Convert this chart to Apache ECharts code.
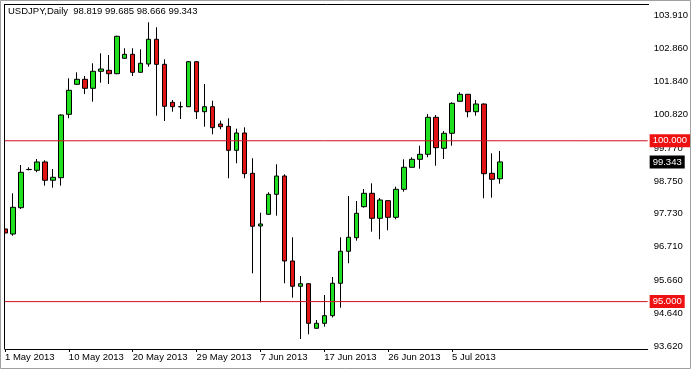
<!DOCTYPE html>
<html>
<head>
<meta charset="utf-8">
<script src="https://cdn.jsdelivr.net/npm/echarts@6/dist/echarts.min.js"></script>
<style>
html,body{margin:0;padding:0;background:#fff;}
#c{width:691px;height:369px;}
</style>
</head>
<body>
<div id="c"></div>
<script>
const symbolName = "USDJPY,Daily";
const dates = [
"1 May 2013","2 May 2013","3 May 2013","5 May 2013","6 May 2013","7 May 2013","8 May 2013","9 May 2013",
"10 May 2013","12 May 2013","13 May 2013","14 May 2013","15 May 2013","16 May 2013","17 May 2013","19 May 2013",
"20 May 2013","21 May 2013","22 May 2013","23 May 2013","24 May 2013","26 May 2013","27 May 2013","28 May 2013",
"29 May 2013","30 May 2013","31 May 2013","2 Jun 2013","3 Jun 2013","4 Jun 2013","5 Jun 2013","6 Jun 2013",
"7 Jun 2013","9 Jun 2013","10 Jun 2013","11 Jun 2013","12 Jun 2013","13 Jun 2013","14 Jun 2013","16 Jun 2013",
"17 Jun 2013","18 Jun 2013","19 Jun 2013","20 Jun 2013","21 Jun 2013","23 Jun 2013","24 Jun 2013","25 Jun 2013",
"26 Jun 2013","27 Jun 2013","28 Jun 2013","30 Jun 2013","1 Jul 2013","2 Jul 2013","3 Jul 2013","4 Jul 2013",
"5 Jul 2013","7 Jul 2013","8 Jul 2013","9 Jul 2013","10 Jul 2013","11 Jul 2013","12 Jul 2013"
];
const openVals = [97.258,97.102,97.920,99.105,99.082,99.341,98.772,98.852,100.823,101.756,101.911,101.631,102.160,102.191,102.085,102.564,
102.688,102.129,102.387,103.155,102.377,101.196,101.062,101.059,102.458,100.904,101.059,100.522,100.450,99.704,100.242,98.989,
97.351,97.715,98.336,98.905,96.263,95.477,95.557,94.171,94.326,94.563,95.570,96.565,96.987,97.951,98.367,97.590,
98.138,97.621,98.492,99.176,99.424,99.580,100.730,99.766,100.233,101.227,101.445,100.904,101.143,98.989,98.819];
const closeVals = [97.133,97.932,99.020,99.110,99.341,98.772,98.865,100.801,101.569,101.911,101.631,102.160,102.231,102.085,103.248,102.688,
102.129,102.409,103.155,102.377,101.072,101.059,101.056,102.458,100.904,101.059,100.407,100.438,99.704,100.242,98.977,97.342,
97.413,98.336,98.905,96.263,95.477,95.557,94.326,94.326,94.563,95.570,96.565,97.000,97.746,98.367,97.590,98.159,
97.621,98.492,99.176,99.424,99.580,100.730,99.785,100.233,101.165,101.445,100.904,101.143,98.977,98.803,99.343];
const lowVals = [96.987,97.049,97.880,99.082,99.020,98.604,98.542,98.604,100.699,101.734,101.454,101.215,101.806,101.765,102.067,102.550,
102.014,102.120,102.303,100.780,100.615,100.904,100.677,101.050,100.677,100.438,100.201,100.357,98.834,99.300,98.834,95.881,
94.979,97.700,97.671,95.570,95.122,93.838,93.984,94.160,94.221,94.507,94.811,96.192,96.894,97.920,97.174,96.938,
97.217,97.559,98.417,99.170,99.132,99.487,99.225,99.434,99.847,101.220,100.730,100.780,98.212,98.231,98.666];
const highVals = [97.640,98.367,99.247,99.176,99.434,99.393,99.123,100.823,101.942,102.129,102.014,102.409,102.719,102.667,103.267,102.875,
102.875,102.844,103.683,103.528,102.533,101.268,101.215,102.480,102.480,101.765,101.246,100.624,100.699,100.376,100.419,99.456,
97.764,98.399,99.269,98.958,97.000,95.797,95.565,94.429,95.206,95.766,97.000,98.284,98.128,98.501,98.678,98.221,
98.150,98.573,99.424,99.487,99.847,100.833,100.801,100.304,101.196,101.507,101.450,101.268,101.160,99.611,99.685];
const priceTicks = [103.910,102.860,101.840,100.820,99.770,98.750,97.730,96.710,95.660,94.640,93.620];
const levelLines = [100.000, 95.000];
const yMin = 93.527, yMax = 104.252;
const totalSlots = 81;

const cats = dates.slice();
while (cats.length < totalSlots) cats.push('');
const ohlc = openVals.map((o, i) => [o, closeVals[i], lowVals[i], highVals[i]]);
const last = ohlc.length - 1;
const bid = closeVals[last];
const titleText = symbolName + "  " + [openVals[last], highVals[last], lowVals[last], closeVals[last]].map(v => v.toFixed(3)).join(" ");

const FONT = "Liberation Sans";
const LINE_RED = '#d01020';
const chart = echarts.init(document.getElementById('c'), null, {renderer: 'canvas'});
const showIdx = (i, v) => i % 8 === 0 && v !== '';
const tag = (bg) => ({show: true, distance: 2, color: '#fff', backgroundColor: bg,
  fontFamily: FONT, fontSize: 9.5, padding: [2, 3, 1, 3],
  formatter: p => Number(p.value[1]).toFixed(3)});
const hLine = (v, name, color, width, bg) => ({
  type: 'line', name: name, xAxisIndex: 1, yAxisIndex: 0, silent: true, z: 3,
  data: [[0, v], [1, v]], symbol: 'none', showSymbol: false,
  lineStyle: {color: color, width: width, type: 'solid'},
  itemStyle: {color: color},
  endLabel: tag(bg)
});
const series = [{
  type: 'candlestick',
  xAxisIndex: 0, yAxisIndex: 0,
  data: ohlc,
  barWidth: 5,
  z: 2,
  itemStyle: {color: '#1fe01f', color0: '#e01414', borderColor: '#000', borderColor0: '#000', borderWidth: 1}
}];
levelLines.forEach((v, i) => series.push(hLine(v, 'level' + i, LINE_RED, 1, '#ee1111')));
series.push(hLine(bid, 'bid', 'rgba(0,0,0,0)', 0, '#000'));

chart.setOption({
  animation: false,
  backgroundColor: '#ffffff',
  title: {text: titleText, left: 8, top: 6, padding: 0,
    textStyle: {fontFamily: FONT, fontSize: 9.5, fontWeight: 'normal', color: '#000'}},
  grid: {left: 1, right: 42, top: 4, bottom: 20, containLabel: false},
  xAxis: [{
    type: 'category', data: cats, boundaryGap: true,
    axisLine: {show: true, lineStyle: {color: '#000', width: 1}},
    axisTick: {show: true, alignWithLabel: true, interval: showIdx, length: 3, lineStyle: {color: '#000'}},
    axisLabel: {interval: showIdx, align: 'left', margin: 3, fontFamily: FONT, fontSize: 9.5, color: '#000'},
    splitLine: {show: false}
  }, {
    type: 'value', min: 0, max: 1, show: false
  }],
  yAxis: {
    type: 'value', position: 'right', min: yMin, max: yMax, scale: true,
    axisLine: {show: true, lineStyle: {color: '#000', width: 1}},
    axisTick: {show: true, customValues: priceTicks, length: 3, lineStyle: {color: '#000'}},
    axisLabel: {customValues: priceTicks, margin: 6, fontFamily: FONT, fontSize: 9.5, color: '#000',
      formatter: v => v.toFixed(3)},
    splitLine: {show: false}
  },
  series: series,
  graphic: [
    {type: 'rect', z: 100, shape: {x: 0, y: 0, width: 4.5, height: 369}, style: {fill: '#fff'}},
    {type: 'line', z: 101, shape: {x1: 4.5, y1: 4, x2: 4.5, y2: 349}, style: {stroke: '#000', lineWidth: 1}},
    {type: 'line', z: 101, shape: {x1: 4.5, y1: 4.5, x2: 649, y2: 4.5}, style: {stroke: '#000', lineWidth: 1}},
    {type: 'rect', z: 102, shape: {x: 0.5, y: 0.5, width: 690, height: 368}, style: {fill: 'none', stroke: '#a0a0a0', lineWidth: 1}}
  ]
});
</script>
</body>
</html>
